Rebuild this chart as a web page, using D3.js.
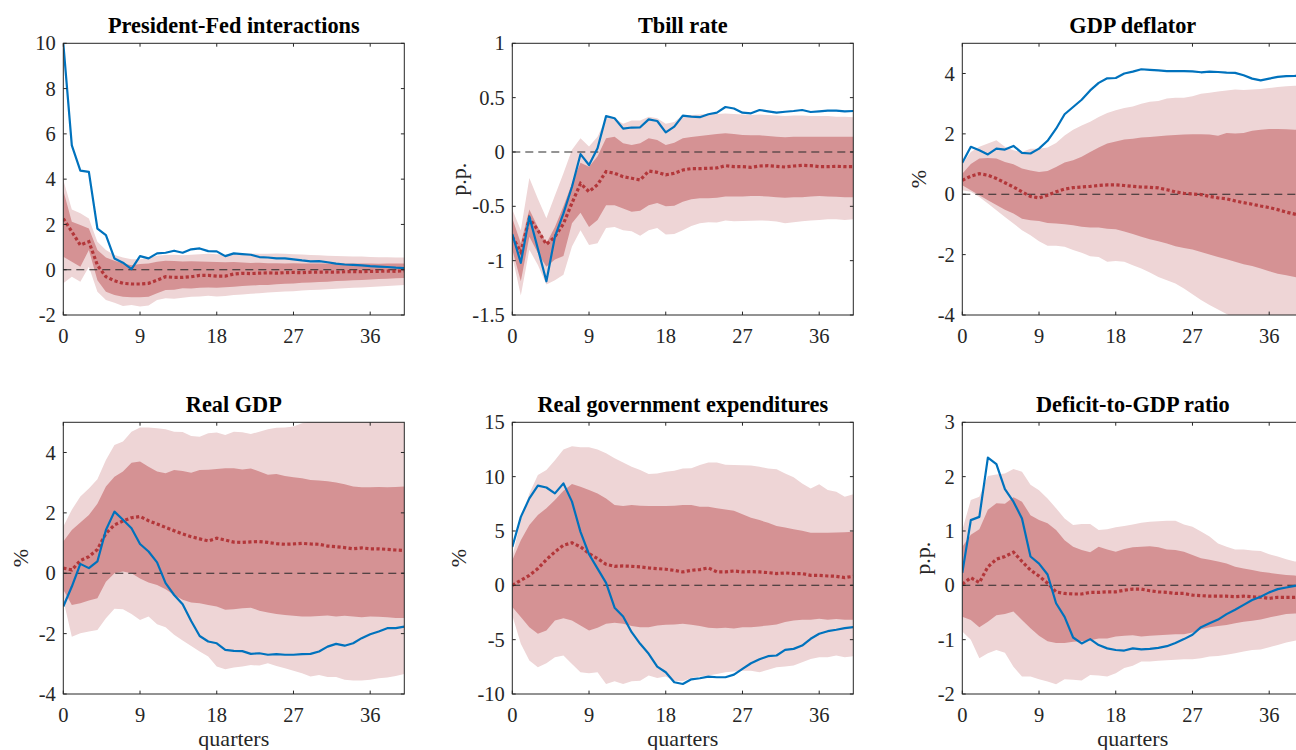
<!DOCTYPE html>
<html>
<head>
<meta charset="utf-8">
<script src="https://cdn.jsdelivr.net/npm/d3@7"></script>
<style>
  html, body { margin: 0; padding: 0; background: #fff; overflow: hidden; }
  svg { display: block; }
  text { font-family: "Liberation Serif", "DejaVu Serif", "Noto Serif", serif; }
</style>
</head>
<body>
<svg id="chart" width="1296" height="750"></svg>
<script>
// ---------------- DATA ----------------
const titles = ["President-Fed interactions", "Tbill rate", "GDP deflator",
                "Real GDP", "Real government expenditures", "Deficit-to-GDP ratio"];
const yLabels = ["", "p.p.", "%", "%", "%", "p.p."];
const xLabels = ["", "", "", "quarters", "quarters", "quarters"];
const xTicks = [0, 9, 18, 27, 36];
const xDomain = [0, 40];

const yDomains = [[-2, 10], [-1.5, 1], [-4, 5], [-4, 5], [-10, 15], [-2, 3]];
const yTicks = [
  [-2, 0, 2, 4, 6, 8, 10],
  [-1.5, -1, -0.5, 0, 0.5, 1],
  [-4, -2, 0, 2, 4],
  [-4, -2, 0, 2, 4],
  [-10, -5, 0, 5, 10, 15],
  [-2, -1, 0, 1, 2, 3]
];

// Panel 1: President-Fed interactions
const pfBlue = [10, 5.49, 4.38, 4.32, 1.82, 1.53, 0.5, 0.31, 0.03, 0.6, 0.5, 0.72, 0.75, 0.84, 0.75, 0.9, 0.94, 0.82, 0.81, 0.6, 0.72, 0.69, 0.66, 0.56, 0.54, 0.5, 0.5, 0.46, 0.41, 0.37, 0.38, 0.33, 0.27, 0.23, 0.21, 0.19, 0.16, 0.14, 0.12, 0.09, 0.07];
const pfMed = [2.26, 1.68, 1.09, 1.24, 0.2, -0.31, -0.49, -0.6, -0.63, -0.63, -0.6, -0.46, -0.31, -0.34, -0.34, -0.31, -0.25, -0.25, -0.28, -0.28, -0.19, -0.16, -0.17, -0.15, -0.14, -0.15, -0.13, -0.12, -0.13, -0.11, -0.11, -0.1, -0.11, -0.09, -0.08, -0.09, -0.07, -0.07, -0.06, -0.07, -0.05];
const pfHi68 = [3.5, 2.12, 1.97, 1.82, 0.87, 0.54, 0.4, 0.28, 0.2, 0.25, 0.28, 0.35, 0.4, 0.38, 0.36, 0.37, 0.36, 0.35, 0.34, 0.33, 0.34, 0.32, 0.3, 0.31, 0.29, 0.29, 0.28, 0.29, 0.28, 0.27, 0.28, 0.28, 0.27, 0.27, 0.28, 0.27, 0.27, 0.26, 0.27, 0.27, 0.27];
const pfLo68 = [0.57, 0.35, 0.13, 0.87, -0.46, -0.97, -1.12, -1.19, -1.22, -1.22, -1.19, -1.04, -0.9, -0.88, -0.82, -0.83, -0.8, -0.78, -0.8, -0.77, -0.75, -0.72, -0.7, -0.68, -0.67, -0.64, -0.62, -0.61, -0.58, -0.57, -0.54, -0.53, -0.5, -0.49, -0.46, -0.45, -0.43, -0.41, -0.4, -0.38, -0.37];
const pfHi90 = [3.96, 2.66, 2.49, 2.26, 1.24, 0.87, 0.65, 0.54, 0.46, 0.46, 0.52, 0.62, 0.65, 0.66, 0.64, 0.66, 0.68, 0.7, 0.68, 0.66, 0.7, 0.72, 0.72, 0.7, 0.71, 0.72, 0.7, 0.68, 0.67, 0.65, 0.64, 0.62, 0.61, 0.6, 0.58, 0.58, 0.56, 0.55, 0.55, 0.54, 0.54];
const pfLo90 = [-0.6, -0.31, -0.53, 0.13, -0.97, -1.34, -1.46, -1.6, -1.56, -1.63, -1.58, -1.34, -1.26, -1.28, -1.24, -1.19, -1.18, -1.15, -1.18, -1.16, -1.12, -1.1, -1.06, -1.04, -1.01, -0.98, -0.96, -0.95, -0.92, -0.9, -0.88, -0.86, -0.84, -0.82, -0.8, -0.78, -0.76, -0.74, -0.72, -0.7, -0.68];

// Panel 2: Tbill rate
const tbBlue = [-0.755, -1.02, -0.595, -0.89, -1.19, -0.78, -0.565, -0.32, -0.02, -0.12, 0.035, 0.33, 0.31, 0.215, 0.225, 0.227, 0.30, 0.285, 0.18, 0.233, 0.334, 0.325, 0.32, 0.347, 0.362, 0.414, 0.40, 0.362, 0.356, 0.386, 0.374, 0.362, 0.37, 0.377, 0.386, 0.368, 0.374, 0.38, 0.38, 0.374, 0.377];
const tbMed = [-0.78, -0.92, -0.61, -0.72, -0.85, -0.78, -0.66, -0.47, -0.29, -0.365, -0.30, -0.18, -0.196, -0.227, -0.242, -0.258, -0.175, -0.187, -0.21, -0.196, -0.166, -0.153, -0.153, -0.15, -0.147, -0.126, -0.135, -0.135, -0.141, -0.129, -0.126, -0.132, -0.138, -0.129, -0.123, -0.126, -0.135, -0.135, -0.132, -0.135, -0.135];
const tbHi68 = [-0.61, -0.84, -0.53, -0.69, -0.84, -0.69, -0.50, -0.29, -0.10, -0.135, -0.04, 0.126, 0.14, 0.08, 0.064, 0.08, 0.126, 0.11, 0.064, 0.086, 0.126, 0.138, 0.147, 0.156, 0.165, 0.172, 0.165, 0.156, 0.153, 0.153, 0.147, 0.141, 0.135, 0.141, 0.141, 0.141, 0.141, 0.141, 0.141, 0.141, 0.141];
const tbLo68 = [-0.9, -1.19, -0.78, -0.93, -1.055, -0.99, -0.957, -0.656, -0.56, -0.69, -0.626, -0.49, -0.49, -0.52, -0.55, -0.54, -0.49, -0.47, -0.50, -0.494, -0.457, -0.435, -0.426, -0.426, -0.42, -0.41, -0.41, -0.41, -0.405, -0.405, -0.41, -0.417, -0.42, -0.417, -0.417, -0.41, -0.405, -0.41, -0.413, -0.417, -0.417];
const tbHi90 = [-0.53, -0.72, -0.24, -0.43, -0.61, -0.40, -0.196, 0.02, 0.126, 0.05, 0.14, 0.31, 0.31, 0.26, 0.29, 0.29, 0.325, 0.31, 0.26, 0.275, 0.34, 0.34, 0.345, 0.35, 0.35, 0.355, 0.35, 0.345, 0.34, 0.345, 0.34, 0.335, 0.33, 0.335, 0.335, 0.33, 0.33, 0.33, 0.325, 0.325, 0.32];
const tbLo90 = [-0.96, -1.32, -0.9, -1.04, -1.22, -1.18, -1.13, -0.87, -0.72, -0.856, -0.84, -0.70, -0.69, -0.72, -0.73, -0.77, -0.72, -0.70, -0.76, -0.755, -0.72, -0.68, -0.656, -0.647, -0.65, -0.63, -0.638, -0.635, -0.632, -0.63, -0.632, -0.64, -0.656, -0.647, -0.638, -0.63, -0.625, -0.62, -0.62, -0.625, -0.62];

// Panel 3: GDP deflator
const gdBlue = [1.04, 1.57, 1.46, 1.32, 1.51, 1.48, 1.6, 1.37, 1.35, 1.51, 1.77, 2.17, 2.65, 2.89, 3.13, 3.44, 3.69, 3.84, 3.85, 4.0, 4.06, 4.14, 4.12, 4.1, 4.08, 4.08, 4.08, 4.07, 4.04, 4.06, 4.05, 4.03, 4.02, 3.94, 3.83, 3.77, 3.83, 3.89, 3.91, 3.92, 3.94];
const gdMed = [0.46, 0.6, 0.68, 0.63, 0.52, 0.38, 0.24, 0.08, -0.07, -0.12, -0.03, 0.08, 0.17, 0.22, 0.24, 0.26, 0.29, 0.31, 0.31, 0.29, 0.26, 0.24, 0.23, 0.21, 0.15, 0.08, 0.03, 0.01, -0.01, -0.07, -0.12, -0.15, -0.22, -0.28, -0.33, -0.39, -0.44, -0.51, -0.59, -0.66, -0.73];
const gdHi68 = [0.68, 1.0, 1.18, 1.2, 1.18, 1.07, 0.99, 0.85, 0.79, 0.74, 0.77, 0.9, 1.05, 1.13, 1.24, 1.4, 1.55, 1.68, 1.75, 1.81, 1.84, 1.88, 1.9, 1.92, 1.95, 1.96, 1.98, 1.99, 1.99, 1.98, 1.94, 2.03, 2.01, 2.03, 2.1, 2.14, 2.16, 2.16, 2.15, 2.14, 2.12];
const gdLo68 = [0.3, 0.13, -0.03, -0.2, -0.36, -0.51, -0.64, -0.81, -0.86, -0.89, -0.95, -0.97, -0.99, -1.03, -1.08, -1.1, -1.1, -1.14, -1.16, -1.23, -1.32, -1.41, -1.49, -1.56, -1.63, -1.72, -1.78, -1.83, -1.91, -2.0, -2.08, -2.15, -2.24, -2.32, -2.38, -2.46, -2.55, -2.63, -2.68, -2.74, -2.79];
const gdHi90 = [1.0, 1.4, 1.57, 1.68, 1.79, 1.57, 1.46, 1.4, 1.51, 1.51, 1.55, 1.7, 1.95, 2.14, 2.28, 2.4, 2.56, 2.69, 2.78, 2.86, 2.91, 3.0, 3.06, 3.09, 3.17, 3.2, 3.2, 3.25, 3.33, 3.36, 3.4, 3.44, 3.47, 3.45, 3.47, 3.49, 3.52, 3.55, 3.58, 3.59, 3.61];
const gdLo90 = [0.13, 0.08, -0.09, -0.31, -0.53, -0.75, -0.97, -1.19, -1.36, -1.56, -1.71, -1.71, -1.74, -1.85, -1.94, -2.05, -2.08, -2.24, -2.21, -2.24, -2.35, -2.46, -2.59, -2.74, -2.85, -2.96, -3.12, -3.31, -3.5, -3.67, -3.82, -3.97, -4.1, -4.2, -4.3, -4.4, -4.5, -4.6, -4.7, -4.8, -4.9];

// Panel 4: Real GDP
const rgBlue = [-1.1, -0.44, 0.31, 0.17, 0.39, 1.43, 2.04, 1.77, 1.49, 0.97, 0.72, 0.36, -0.33, -0.72, -1.03, -1.58, -2.08, -2.26, -2.32, -2.54, -2.57, -2.58, -2.67, -2.65, -2.7, -2.68, -2.7, -2.7, -2.68, -2.67, -2.59, -2.43, -2.34, -2.4, -2.32, -2.15, -2.02, -1.93, -1.82, -1.82, -1.77];
const rgMed = [0.17, 0.11, 0.42, 0.55, 0.79, 1.32, 1.6, 1.73, 1.84, 1.88, 1.74, 1.63, 1.52, 1.41, 1.3, 1.21, 1.14, 1.07, 1.16, 1.1, 1.03, 1.02, 1.04, 1.05, 1.02, 0.98, 0.96, 0.97, 0.99, 0.97, 0.96, 0.9, 0.88, 0.85, 0.81, 0.84, 0.81, 0.81, 0.79, 0.77, 0.75];
const rgHi68 = [1.05, 1.43, 1.68, 1.93, 2.3, 2.87, 3.2, 3.37, 3.66, 3.7, 3.53, 3.37, 3.31, 3.42, 3.39, 3.33, 3.42, 3.43, 3.45, 3.48, 3.48, 3.44, 3.47, 3.37, 3.26, 3.29, 3.22, 3.18, 3.15, 3.09, 3.07, 3.05, 3.01, 2.95, 2.87, 2.85, 2.85, 2.86, 2.85, 2.86, 2.87];
const rgLo68 = [-0.55, -1.05, -0.99, -0.9, -0.83, -0.28, 0.0, 0.06, 0.0, -0.17, -0.31, -0.39, -0.53, -0.72, -0.88, -0.97, -0.99, -1.05, -1.1, -1.21, -1.19, -1.16, -1.14, -1.24, -1.3, -1.35, -1.38, -1.41, -1.43, -1.43, -1.42, -1.4, -1.43, -1.41, -1.43, -1.46, -1.43, -1.44, -1.46, -1.48, -1.48];
const rgHi90 = [1.55, 2.1, 2.54, 2.81, 3.11, 3.75, 4.25, 4.36, 4.69, 4.83, 4.83, 4.8, 4.77, 4.69, 4.68, 4.55, 4.52, 4.64, 4.66, 4.58, 4.69, 4.67, 4.61, 4.69, 4.77, 4.82, 4.83, 4.86, 4.97, 5.03, 5.08, 5.1, 5.12, 5.14, 5.15, 5.16, 5.16, 5.17, 5.17, 5.18, 5.18];
const rgLo90 = [-0.88, -2.1, -1.99, -1.93, -1.88, -1.49, -1.18, -1.19, -1.35, -1.55, -1.43, -1.69, -1.79, -2.04, -2.23, -2.41, -2.59, -2.76, -3.09, -3.18, -3.12, -3.09, -3.04, -3.06, -2.98, -3.07, -3.15, -3.23, -3.31, -3.42, -3.37, -3.44, -3.44, -3.53, -3.55, -3.55, -3.53, -3.48, -3.45, -3.4, -3.34];

// Panel 5: Real government expenditures
const geBlue = [3.54, 6.3, 8.0, 9.17, 9.0, 8.46, 9.38, 7.7, 4.92, 2.86, 1.54, 0.22, -2.06, -2.86, -4.31, -5.38, -6.3, -7.48, -8.0, -8.92, -9.08, -8.65, -8.55, -8.4, -8.46, -8.46, -8.22, -7.69, -7.17, -6.8, -6.52, -6.46, -5.94, -5.85, -5.54, -4.92, -4.46, -4.22, -4.09, -3.94, -3.85];
const geMed = [0.0, 0.46, 0.92, 1.54, 2.37, 3.08, 3.69, 3.91, 3.54, 2.92, 2.46, 1.94, 1.75, 1.78, 1.75, 1.69, 1.6, 1.54, 1.48, 1.38, 1.23, 1.38, 1.45, 1.6, 1.23, 1.23, 1.32, 1.23, 1.26, 1.23, 1.17, 1.08, 1.14, 1.08, 1.08, 0.92, 0.92, 0.86, 0.83, 0.71, 0.83];
const geHi68 = [2.3, 4.15, 5.54, 6.46, 7.08, 7.85, 8.7, 9.32, 9.08, 8.77, 8.46, 8.0, 7.38, 7.29, 7.38, 7.32, 7.29, 7.29, 7.3, 7.32, 7.38, 7.38, 7.23, 7.23, 7.08, 6.98, 6.86, 6.55, 6.22, 6.0, 5.75, 5.45, 5.32, 5.17, 5.02, 4.83, 4.83, 4.84, 4.86, 4.89, 4.92];
const geLo68 = [-2.0, -2.92, -3.85, -4.46, -4.15, -3.23, -3.02, -3.23, -3.69, -4.15, -3.91, -3.54, -3.45, -3.54, -3.75, -3.85, -3.85, -3.69, -3.63, -3.6, -3.54, -3.63, -3.75, -3.91, -3.94, -3.91, -3.97, -3.85, -3.85, -3.78, -3.69, -3.6, -3.38, -3.23, -3.17, -3.17, -3.08, -3.17, -3.11, -3.17, -3.17];
const geHi90 = [2.6, 6.0, 8.46, 10.15, 10.6, 11.5, 12.5, 12.8, 12.7, 12.7, 12.5, 12.15, 11.7, 11.3, 10.9, 10.6, 10.25, 10.3, 10.46, 10.55, 10.74, 10.77, 11.08, 11.3, 11.3, 11.1, 11.08, 11.05, 11.02, 10.92, 10.74, 10.68, 10.3, 9.94, 9.38, 8.92, 9.29, 8.77, 8.6, 8.15, 8.37];
const geLo90 = [-2.77, -5.38, -6.92, -7.54, -7.17, -6.62, -6.46, -7.23, -8.0, -8.1, -8.0, -9.08, -8.83, -9.08, -8.83, -8.77, -8.3, -8.52, -8.4, -8.77, -8.83, -8.52, -8.4, -8.3, -8.15, -8.0, -7.94, -7.85, -7.85, -8.0, -7.78, -7.54, -7.48, -7.38, -7.08, -6.77, -6.62, -6.62, -6.46, -6.62, -6.52];

// Panel 6: Deficit-to-GDP ratio
const dgBlue = [0.23, 1.2, 1.26, 2.35, 2.23, 1.77, 1.54, 1.23, 0.53, 0.4, 0.2, -0.33, -0.58, -0.96, -1.07, -0.99, -1.1, -1.16, -1.19, -1.2, -1.16, -1.18, -1.17, -1.15, -1.12, -1.06, -0.99, -0.91, -0.77, -0.7, -0.63, -0.53, -0.45, -0.36, -0.27, -0.21, -0.13, -0.07, -0.04, -0.01, 0.02];
const dgMed = [0.02, 0.14, 0.05, 0.34, 0.48, 0.53, 0.61, 0.44, 0.28, 0.17, 0.04, -0.12, -0.15, -0.16, -0.16, -0.13, -0.13, -0.12, -0.12, -0.09, -0.07, -0.07, -0.1, -0.12, -0.13, -0.15, -0.15, -0.18, -0.19, -0.2, -0.2, -0.2, -0.21, -0.2, -0.21, -0.22, -0.24, -0.22, -0.22, -0.22, -0.21];
const dgHi68 = [0.71, 0.93, 1.03, 1.39, 1.51, 1.5, 1.62, 1.54, 1.29, 1.2, 1.14, 1.02, 0.83, 0.71, 0.65, 0.61, 0.71, 0.66, 0.62, 0.67, 0.7, 0.71, 0.72, 0.7, 0.66, 0.65, 0.62, 0.56, 0.5, 0.47, 0.44, 0.4, 0.34, 0.31, 0.28, 0.25, 0.23, 0.21, 0.19, 0.18, 0.16];
const dgLo68 = [-0.58, -0.64, -0.77, -0.67, -0.55, -0.53, -0.48, -0.64, -0.79, -0.93, -1.03, -1.06, -1.06, -1.04, -1.03, -1.01, -0.98, -0.98, -0.94, -0.93, -0.92, -0.94, -0.93, -0.92, -0.91, -0.9, -0.9, -0.87, -0.81, -0.77, -0.75, -0.73, -0.7, -0.67, -0.65, -0.63, -0.59, -0.56, -0.53, -0.52, -0.5];
const dgHi90 = [1.02, 1.57, 1.63, 2.01, 2.04, 2.06, 2.14, 2.09, 1.85, 1.75, 1.6, 1.42, 1.23, 1.11, 1.13, 1.13, 1.02, 1.03, 1.07, 1.09, 1.12, 1.15, 1.17, 1.18, 1.19, 1.19, 1.12, 1.08, 0.99, 0.9, 0.77, 0.71, 0.66, 0.66, 0.64, 0.63, 0.57, 0.53, 0.48, 0.44, 0.42];
const dgLo90 = [-0.85, -1.0, -1.34, -1.25, -1.19, -1.24, -1.5, -1.68, -1.68, -1.73, -1.77, -1.82, -1.73, -1.74, -1.75, -1.65, -1.66, -1.68, -1.62, -1.52, -1.48, -1.4, -1.4, -1.39, -1.38, -1.37, -1.36, -1.36, -1.34, -1.31, -1.3, -1.28, -1.25, -1.22, -1.19, -1.18, -1.14, -1.1, -1.05, -1.02, -0.99];

// ---------------- BUILD TABLE ----------------
const panels = [
  { blue: pfBlue, med: pfMed, hi68: pfHi68, lo68: pfLo68, hi90: pfHi90, lo90: pfLo90 },
  { blue: tbBlue, med: tbMed, hi68: tbHi68, lo68: tbLo68, hi90: tbHi90, lo90: tbLo90 },
  { blue: gdBlue, med: gdMed, hi68: gdHi68, lo68: gdLo68, hi90: gdHi90, lo90: gdLo90 },
  { blue: rgBlue, med: rgMed, hi68: rgHi68, lo68: rgLo68, hi90: rgHi90, lo90: rgLo90 },
  { blue: geBlue, med: geMed, hi68: geHi68, lo68: geLo68, hi90: geHi90, lo90: geLo90 },
  { blue: dgBlue, med: dgMed, hi68: dgHi68, lo68: dgLo68, hi90: dgHi90, lo90: dgLo90 }
].map((p, i) => Object.assign(p, {
  title: titles[i], ylabel: yLabels[i], xlabel: xLabels[i],
  ydomain: yDomains[i], yticks: yTicks[i]
}));

// ---------------- LAYOUT / STYLE ----------------
const colLefts = [63.3, 512.3, 962.3];
const rowTops = [43.3, 422.3];
const plotW = 341, plotH = 271.7;
const ylabelOffset = [0, 54, 44, 43, 54, 40];
const FONT = "Liberation Serif, DejaVu Serif, Noto Serif, serif";
const AX = "#262626";
const C_LIGHT = "#EED5D6", C_DARK = "#D59294", C_MED = "#B3373A", C_BLUE = "#0072BD";
const TICK = 3.4;

const svg = d3.select("#chart");
const defs = svg.append("defs");

panels.forEach((p, i) => {
  const col = i % 3, row = Math.floor(i / 3);
  const left = colLefts[col], top = rowTops[row];
  const x = d3.scaleLinear().domain(xDomain).range([0, plotW]);
  const y = d3.scaleLinear().domain(p.ydomain).range([plotH, 0]);
  const g = svg.append("g").attr("transform", `translate(${left},${top})`);

  defs.append("clipPath").attr("id", "clip" + i)
    .append("rect").attr("x", 0).attr("y", 0).attr("width", plotW).attr("height", plotH);

  const plot = g.append("g").attr("clip-path", `url(#clip${i})`);
  const idx = p.med.map((_, k) => k);

  const area = (lo, hi) => d3.area().x(k => x(k)).y0(k => y(lo[k])).y1(k => y(hi[k]));
  plot.append("path").datum(idx).attr("d", area(p.lo90, p.hi90)).attr("fill", C_LIGHT);
  plot.append("path").datum(idx).attr("d", area(p.lo68, p.hi68)).attr("fill", C_DARK);

  plot.append("line").attr("x1", x(xDomain[0])).attr("x2", x(xDomain[1]))
    .attr("y1", y(0)).attr("y2", y(0))
    .attr("stroke", "#2a2a2a").attr("stroke-width", 1.1).attr("stroke-dasharray", "8,5");

  const line = arr => d3.line().x(k => x(k)).y(k => y(arr[k]));
  plot.append("path").datum(idx).attr("d", line(p.med))
    .attr("fill", "none").attr("stroke", C_MED).attr("stroke-width", 3.2)
    .attr("stroke-dasharray", "3.2,2.4");
  plot.append("path").datum(idx).attr("d", line(p.blue))
    .attr("fill", "none").attr("stroke", C_BLUE).attr("stroke-width", 2.2)
    .attr("stroke-linejoin", "round");

  // box
  const ax = g.append("g");
  ax.append("rect").attr("x", 0).attr("y", 0).attr("width", plotW).attr("height", plotH)
    .attr("fill", "none").attr("stroke", AX).attr("stroke-width", 1);

  // x ticks (bottom & top, inward)
  xTicks.forEach(t => {
    const xx = x(t);
    ax.append("line").attr("x1", xx).attr("x2", xx).attr("y1", plotH).attr("y2", plotH - TICK)
      .attr("stroke", AX);
    ax.append("line").attr("x1", xx).attr("x2", xx).attr("y1", 0).attr("y2", TICK)
      .attr("stroke", AX);
    ax.append("text").attr("x", xx).attr("y", plotH + 28)
      .attr("text-anchor", "middle").style("font-family", FONT).attr("font-size", 20.5)
      .attr("fill", AX).text(String(t));
  });
  // y ticks (left & right, inward)
  p.yticks.forEach(t => {
    const yy = y(t);
    ax.append("line").attr("x1", 0).attr("x2", TICK).attr("y1", yy).attr("y2", yy).attr("stroke", AX);
    ax.append("line").attr("x1", plotW).attr("x2", plotW - TICK).attr("y1", yy).attr("y2", yy).attr("stroke", AX);
    ax.append("text").attr("x", -7.5).attr("y", yy).attr("dy", "0.35em")
      .attr("text-anchor", "end").style("font-family", FONT).attr("font-size", 20.5)
      .attr("fill", AX).text(String(t));
  });

  // title
  g.append("text").attr("x", plotW / 2).attr("y", -10.5)
    .attr("text-anchor", "middle").style("font-family", FONT).attr("font-weight", "bold")
    .attr("font-size", 22.3).attr("fill", "#000").text(p.title);

  if (p.ylabel) {
    g.append("text").attr("transform", `translate(${-ylabelOffset[i]},${plotH / 2}) rotate(-90)`)
      .attr("text-anchor", "middle").attr("dominant-baseline", "central")
      .style("font-family", FONT).attr("font-size", 22).attr("fill", AX).text(p.ylabel);
  }
  if (p.xlabel) {
    g.append("text").attr("x", plotW / 2).attr("y", plotH + 52)
      .attr("text-anchor", "middle").style("font-family", FONT).attr("font-size", 22)
      .attr("fill", AX).text(p.xlabel);
  }
});
</script>
</body>
</html>
